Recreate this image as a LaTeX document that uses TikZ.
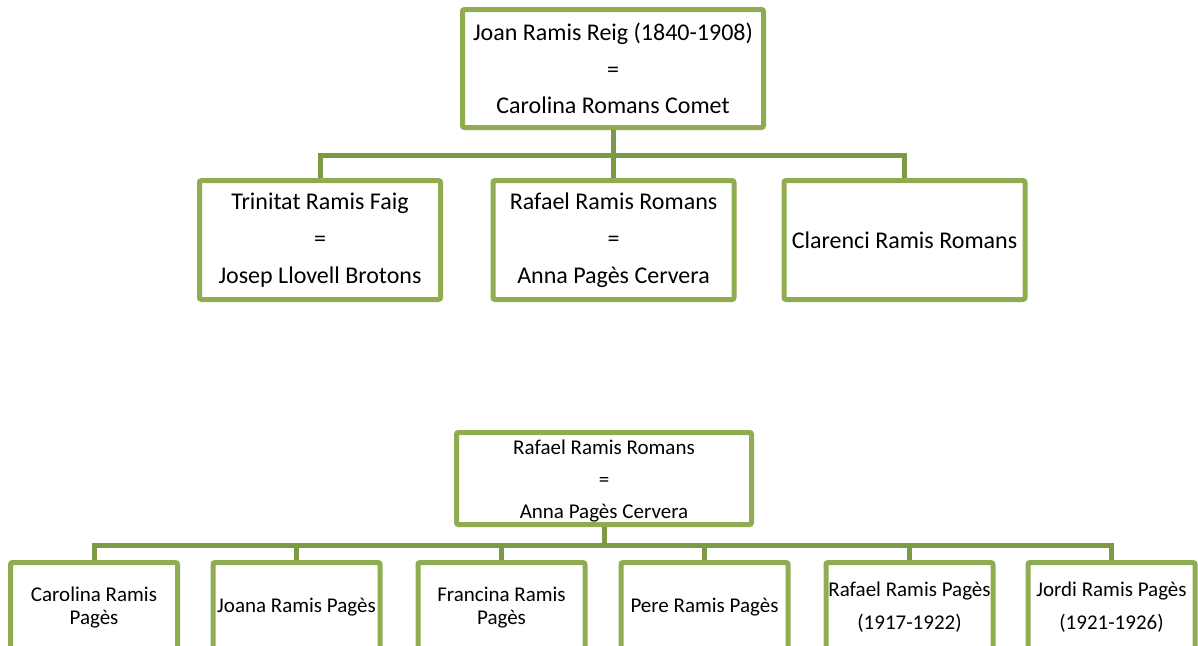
\documentclass[tikz,border=0pt]{standalone}
\usepackage{fontspec}
\setmainfont{Carlito}
\definecolor{boxgreen}{RGB}{143,173,80}
\definecolor{linegreen}{RGB}{124,153,70}
\begin{document}
\begin{tikzpicture}[x=1pt, y=-1pt]
\useasboundingbox (0,0) rectangle (1198,645);
\tikzset{
    person/.style={draw=boxgreen, line width=5pt, rounded corners=2pt, fill=white,
        inner sep=0pt, align=center, minimum height=119pt, minimum width=241pt,
        font=\fontsize{24}{36.8}\selectfont},
    child/.style={person, minimum width=167pt, minimum height=90pt,
        font=\fontsize{21}{23}\selectfont},
    link/.style={draw=linegreen, line width=5pt}
}

% first family
\begin{scope}[every node/.style={person}]
    \node (joan) at (613,68.5) [minimum width=301pt, minimum height=118pt]
        {Joan Ramis Reig (1840-1908)\\=\\Carolina Romans Comet};
    \node (trinitat) at (320,240) {Trinitat Ramis Faig\\=\\Josep Llovell Brotons};
    \node (rafael)   at (613.5,240) {Rafael Ramis Romans\\=\\Anna Pagès Cervera};
    \node (clarenci) at (904.5,240) {Clarenci Ramis Romans};
\end{scope}

% second family
\begin{scope}[every node/.style={child}]
    \node (rafael2) at (604,478.5) [minimum width=295pt, minimum height=92pt,
        font=\fontsize{21}{32}\selectfont]
        {\rule{0pt}{20pt}Rafael Ramis Romans\\=\\Anna Pagès Cervera};
    \node (carolina) at (94,607.5)  {Carolina Ramis\\Pagès};
    \node (joana)    at (296.5,607.5) {Joana Ramis Pagès};
    \node (francina) at (501.5,607.5) {Francina Ramis\\Pagès};
    \node (pere)     at (704.5,607.5) {Pere Ramis Pagès};
    \node (rafaelp)  at (909.5,607.5) {Rafael Ramis Pagès\\[10pt](1917-1922)};
    \node (jordi)    at (1111.5,607.5) {Jordi Ramis Pagès\\[10pt](1921-1926)};
\end{scope}

\begin{scope}[]
    \foreach \kid in {trinitat, rafael, clarenci}
        \draw [link] (joan.south) -- ++(0,25) -| (\kid.north);
    \foreach \kid in {carolina, joana, francina, pere, rafaelp, jordi}
        \draw [link] (rafael2.south) -- ++(0,18) -| (\kid.north);
\end{scope}
\end{tikzpicture}
\end{document}
